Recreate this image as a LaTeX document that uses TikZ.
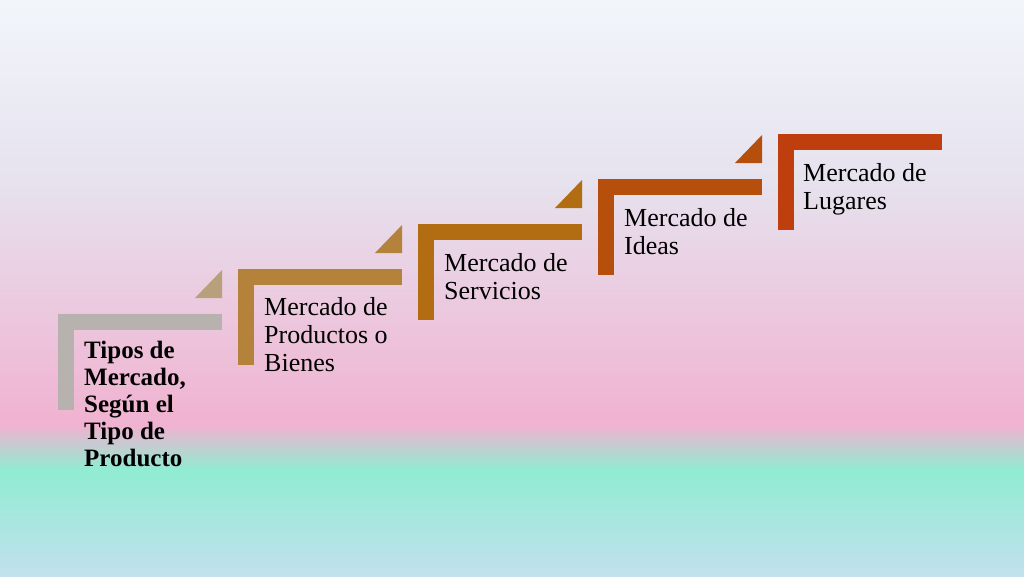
\documentclass[tikz,border=0pt]{standalone}
\usepackage{fontspec}
\setmainfont{Liberation Serif}
\definecolor{skytop}{HTML}{F2F6FB}
\definecolor{lilac}{HTML}{E6E2EE}
\definecolor{rose}{HTML}{F0B2D0}
\definecolor{mint}{HTML}{90ECD2}
\definecolor{paleblue}{HTML}{C2E0EE}
\definecolor{stepA}{HTML}{B8B2AE}
\definecolor{triA}{HTML}{B9A07C}
\definecolor{stepB}{HTML}{B5823C}
\definecolor{stepC}{HTML}{B26C12}
\definecolor{stepD}{HTML}{B64E0C}
\definecolor{stepE}{HTML}{BE3E0E}
\tikzset{
  steptext/.style={anchor=north west,inner sep=0pt,align=left,
    font=\fontsize{26}{28}\selectfont}
}
\begin{document}
\begin{tikzpicture}[x=1pt,y=-1pt]
  \useasboundingbox (0,0) rectangle (1024,576);
  % background
  \shade[top color=skytop,bottom color=lilac] (0,0) rectangle (1024,180);
  \shade[top color=lilac,bottom color=rose] (0,180) rectangle (1024,425);
  \shade[top color=rose,bottom color=mint] (0,425) rectangle (1024,470);
  \shade[top color=mint,bottom color=paleblue] (0,470) rectangle (1024,576);
  % steps
  \foreach \i/\col in {0/stepA,1/stepB,2/stepC,3/stepD,4/stepE}{
    \pgfmathsetmacro{\sx}{58+180*\i}
    \pgfmathsetmacro{\sy}{314-45*\i}
    \fill[\col] (\sx,\sy) rectangle ++(164,16);
    \fill[\col] (\sx,\sy) rectangle ++(16,96);
  }
  % triangles
  \foreach \i/\col in {0/triA,1/stepB,2/stepC,3/stepD}{
    \pgfmathsetmacro{\sx}{58+180*\i}
    \pgfmathsetmacro{\sy}{314-45*\i}
    \fill[\col] (\sx+164,\sy-16) -- (\sx+164,\sy-44) -- (\sx+137,\sy-16) -- cycle;
  }
  % labels
  \node[steptext,font=\fontsize{25}{27}\selectfont\bfseries] (tipo) at (84,341)
    {Tipos de\\Mercado,\\Según el\\Tipo de\\Producto};
  \node[steptext] (bienes) at (264,297) {Mercado de\\Productos o\\Bienes};
  \node[steptext] (servicios) at (444,253) {Mercado de\\Servicios};
  \node[steptext] (ideas) at (624,208) {Mercado de\\Ideas};
  \node[steptext] (lugares) at (803,163) {Mercado de\\Lugares};
\end{tikzpicture}
\end{document}
